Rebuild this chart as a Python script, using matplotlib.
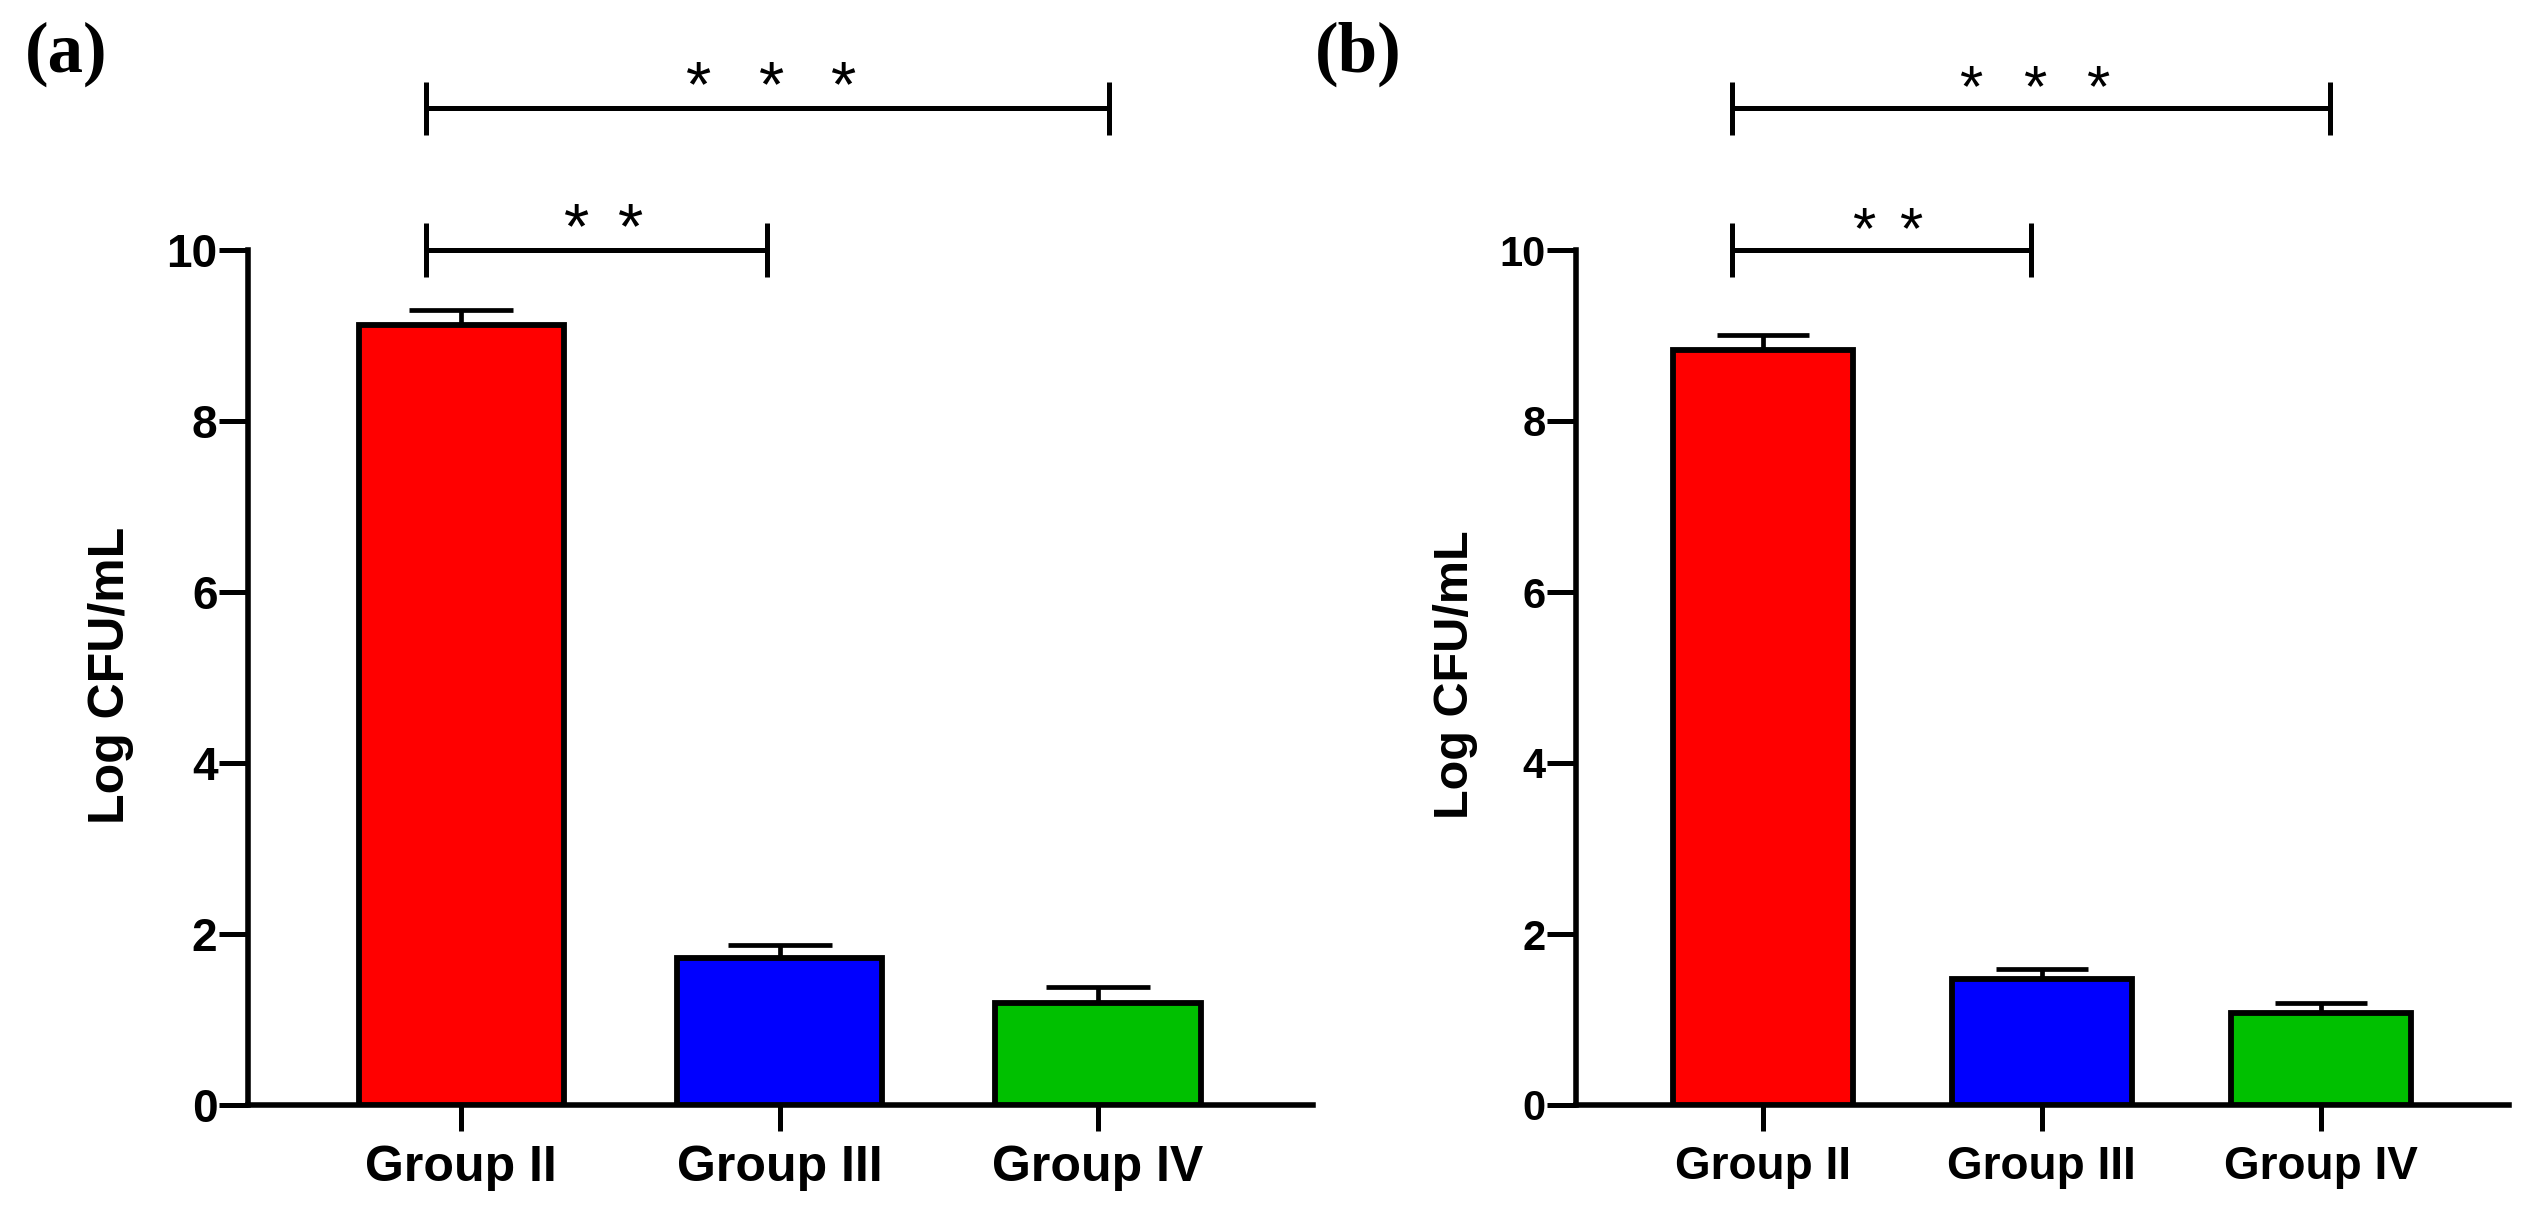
import matplotlib
matplotlib.use("Agg")
import matplotlib.pyplot as plt
import numpy as np

# data
groups = ["Group II", "Group III", "Group IV"]
colors = ["#FF0000", "#0000FF", "#00C000"]

mean_a = [9.12, 1.72, 1.19]
sem_a = [0.18, 0.15, 0.19]
mean_b = [8.83, 1.47, 1.08]
sem_b = [0.18, 0.12, 0.11]

# significance brackets: (start x, end x, height, label)
sig_a = [(-0.11, 0.96, 10.0, "**"), (-0.11, 2.035, 11.66, "***")]
sig_b = [(-0.11, 0.96, 10.0, "**"), (-0.11, 2.035, 11.66, "***")]

yticks = [0, 2, 4, 6, 8, 10]

W, H = 2531, 1217
DPI = 100
fig = plt.figure(figsize=(W / DPI, H / DPI), dpi=DPI)
plt.rcParams['font.family'] = ['Liberation Sans', 'DejaVu Sans']


def panel(rect, means, sems, sigs, fs_tick, fs_grp, fs_star, capsize):
    ax = fig.add_axes(rect)
    x = np.arange(len(groups))
    ax.bar(x, means, width=0.645, color=colors, edgecolor="black",
           linewidth=4.2, zorder=3)
    ax.errorbar(x, means, yerr=[np.zeros(len(sems)), sems], fmt="none",
                ecolor="black", elinewidth=3.4, capsize=capsize, capthick=3.4,
                zorder=2)
    ax.set_xlim(-0.67, 2.675)
    ax.set_ylim(0, 12.5)
    for s in ["top", "right"]:
        ax.spines[s].set_visible(False)
    ax.spines["left"].set_bounds(0, 10)
    ax.spines["left"].set_linewidth(4)
    ax.spines["bottom"].set_linewidth(4)
    ax.set_yticks(yticks)
    ax.set_yticklabels([str(t) for t in yticks], fontsize=fs_tick,
                       fontweight="bold")
    ax.set_xticks(x)
    ax.set_xticklabels(groups, fontsize=fs_grp, fontweight="bold")
    ax.tick_params(axis="y", length=21, width=3.6, pad=1)
    ax.tick_params(axis="x", length=19, width=3.6, pad=10)

    for x0, x1, yb, lab in sigs:
        tick = 0.31
        ax.plot([x0, x1], [yb, yb], color="black", lw=3.6, solid_capstyle="butt")
        ax.plot([x0, x0], [yb - tick, yb + tick], color="black", lw=3.6,
                solid_capstyle="butt")
        ax.plot([x1, x1], [yb - tick, yb + tick], color="black", lw=3.6,
                solid_capstyle="butt")
        if len(lab) == 2:
            xs = [0.361, 0.531]
        else:
            xs = [0.746, 0.976, 1.2]
        for xi in xs:
            ax.text(xi, yb + 0.02, "*", ha="center", va="baseline",
                    fontsize=fs_star)
    return ax


ax_a = panel([248 / W, 112 / H, 1065 / W, 1068.75 / H], mean_a, sem_a, sig_a,
             33, 36, 47, 37.5)
ax_b = panel([1576 / W, 112 / H, 933 / W, 1068.75 / H], mean_b, sem_b, sig_b,
             30, 33, 43, 33)

fig.text(134 / W, 1 - 675 / H, "Log CFU/mL", rotation=90, ha="right",
         va="center", fontsize=36, fontweight="bold")
fig.text(1478 / W, 1 - 675 / H, "Log CFU/mL", rotation=90, ha="right",
         va="center", fontsize=35, fontweight="bold")

fig.text(25 / W, 1 - 22 / H, "(a)", ha="left", va="top", fontsize=51,
         fontweight="bold", family=["Liberation Serif", "DejaVu Serif"])
fig.text(1315 / W, 1 - 22 / H, "(b)", ha="left", va="top", fontsize=51,
         fontweight="bold", family=["Liberation Serif", "DejaVu Serif"])

fig.savefig("out.png", dpi=DPI, facecolor="white")
